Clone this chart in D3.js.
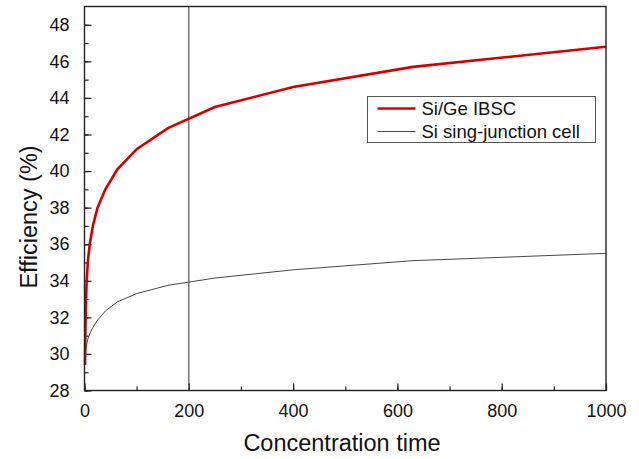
<!DOCTYPE html>
<html>
<head>
<meta charset="utf-8">
<script src="https://cdn.jsdelivr.net/npm/d3@7"></script>
<style>
  body { margin: 0; background: #fff; }
  text { font-family: "Liberation Sans", Arial, sans-serif; fill: #111; }
</style>
</head>
<body>
<script>
// concentration steps (roughly log spaced) and efficiencies
var concentration = [1, 1.6, 2.5, 4, 6.3, 10, 16, 25, 40, 63, 100, 160, 250, 400, 630, 1000];
var ibsc = [29.4, 31.0, 32.5, 33.9, 35.0, 36.0, 37.0, 38.0, 39.0, 40.1, 41.2, 42.35, 43.5, 44.6, 45.7, 46.8];
var single = [29.6, 29.9, 30.2, 30.5, 30.8, 31.1, 31.45, 31.85, 32.35, 32.85, 33.3, 33.75, 34.15, 34.6, 35.1, 35.5];
var seriesNames = ["Si/Ge IBSC", "Si sing-junction cell"];
var xTicks = [0, 200, 400, 600, 800, 1000];
var yTicks = [28, 30, 32, 34, 36, 38, 40, 42, 44, 46, 48];
var markX = 200;

var W = 639, H = 459;
var margin = {left: 84.5, top: 6.5, right: 33, bottom: 68.5};
var pw = W - margin.left - margin.right;
var ph = H - margin.top - margin.bottom;

var svg = d3.select("body").append("svg")
  .attr("width", W)
  .attr("height", H);

var g = svg.append("g")
  .attr("transform", "translate(" + margin.left + "," + margin.top + ")");

var x = d3.scaleLinear().domain([0, 1000]).range([0, pw]);
var y = d3.scaleLinear().domain([28, 49]).range([ph, 0]);

// minor ticks first, then major with labels
var minorX = d3.range(0, 1001, 100);
var minorY = d3.range(28, 49, 1);

g.append("g")
  .attr("transform", "translate(0," + ph + ")")
  .call(d3.axisBottom(x).tickValues(minorX).tickSize(-4).tickFormat(""))
  .call(function (a) { a.select(".domain").remove(); });

g.append("g")
  .call(d3.axisLeft(y).tickValues(minorY).tickSize(-4).tickFormat(""))
  .call(function (a) { a.select(".domain").remove(); });

var xAxis = g.append("g")
  .attr("transform", "translate(0," + ph + ")")
  .call(d3.axisBottom(x).tickValues(xTicks).tickSize(-7).tickPadding(14).tickFormat(d3.format("d")));
xAxis.select(".domain").remove();
xAxis.selectAll("text").attr("font-size", 18).attr("dy", "0.71em");

var yAxis = g.append("g")
  .call(d3.axisLeft(y).tickValues(yTicks).tickSize(-7).tickPadding(15).tickFormat(d3.format("d")));
yAxis.select(".domain").remove();
yAxis.selectAll("text").attr("font-size", 18);

g.selectAll(".tick line").attr("stroke", "#222").attr("stroke-width", 1.2);

// vertical marker
g.append("line")
  .attr("x1", x(markX)).attr("x2", x(markX))
  .attr("y1", 0).attr("y2", ph)
  .attr("stroke", "#555")
  .attr("stroke-width", 1.2);

var line = d3.line()
  .x(function (d) { return x(d[0]); })
  .y(function (d) { return y(d[1]); });

g.append("path")
  .datum(concentration.map(function (c, i) { return [c, single[i]]; }))
  .attr("d", line)
  .attr("fill", "none")
  .attr("stroke", "#333")
  .attr("stroke-width", 0.9);

g.append("path")
  .datum(concentration.map(function (c, i) { return [c, ibsc[i]]; }))
  .attr("d", line)
  .attr("fill", "none")
  .attr("stroke", "#d40000")
  .attr("stroke-width", 2.6);

// frame
g.append("rect")
  .attr("width", pw).attr("height", ph)
  .attr("fill", "none")
  .attr("stroke", "#222")
  .attr("stroke-width", 1.4);

// legend
var lg = svg.append("g").attr("transform", "translate(367.5,96.5)");
lg.append("rect")
  .attr("width", 228).attr("height", 46)
  .attr("fill", "#fff")
  .attr("stroke", "#555")
  .attr("stroke-width", 1);

var legColors = ["#d40000", "#333"];
var legWidths = [2.6, 0.9];
seriesNames.forEach(function (name, i) {
  var yy = 12 + i * 23;
  lg.append("line")
    .attr("x1", 10).attr("x2", 48)
    .attr("y1", yy).attr("y2", yy)
    .attr("stroke", legColors[i])
    .attr("stroke-width", legWidths[i]);
  lg.append("text")
    .attr("x", 54).attr("y", yy + 6.5)
    .attr("font-size", 18.5)
    .text(name);
});

// axis titles
svg.append("text")
  .attr("x", 342)
  .attr("y", 451)
  .attr("text-anchor", "middle")
  .attr("font-size", 23.5)
  .text("Concentration time");

svg.append("text")
  .attr("transform", "translate(37,217) rotate(-90)")
  .attr("text-anchor", "middle")
  .attr("font-size", 23.5)
  .text("Efficiency (%)");
</script>
</body>
</html>
